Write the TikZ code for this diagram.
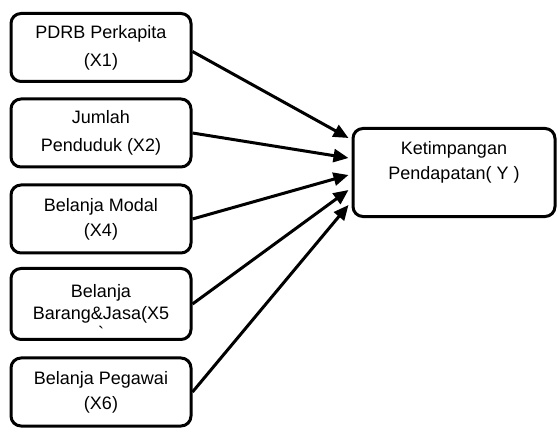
\documentclass[tikz,border=0pt]{standalone}
\usepackage{fontspec}
\setmainfont{Liberation Sans}
\usetikzlibrary{arrows.meta}
\begin{document}
\begin{tikzpicture}[x=1pt,y=1pt,
  var/.style={draw,line width=3pt,rounded corners=10pt,align=center,
    minimum width=180pt,minimum height=68pt,inner sep=2pt,
    font=\fontsize{18}{25}\selectfont},
  link/.style={line width=3pt,-{Triangle[length=15pt,width=13pt]}}]
\useasboundingbox (0,0) rectangle (558,432);
\node[var,font=\fontsize{18}{28}\selectfont] (x1) at (101,384.5) {PDRB Perkapita\\(X1)};
\node[var,font=\fontsize{18}{28}\selectfont] (x2) at (101,299) {Jumlah\\Penduduk (X2)};
\node[var] (x4) at (101,213) {Belanja Modal\\(X4)};
\node[var,minimum height=71pt,font=\fontsize{18}{22}\selectfont] (x5) at (101,128) {Belanja\\Barang\&Jasa(X5};
\node[font=\fontsize{18}{22}\selectfont,inner sep=0pt] (x5g) at ([yshift=-29pt]x5.center) {\textasciigrave};
\node[var] (x6) at (101,40) {Belanja Pegawai\\(X6)};
\node[var,minimum width=202pt,minimum height=0pt,inner ysep=13pt,text depth=24pt] (y) at (454,259.5) {Ketimpangan\\Pendapatan( Y )};
\draw[link] ([yshift=-4pt]x1.east) -- ([xshift=-3pt,yshift=34.5pt]y.west);
\draw[link] (x2.east) -- ([xshift=-3pt,yshift=14.5pt]y.west);
\draw[link] (x4.east) -- ([xshift=-3pt,yshift=-2.5pt]y.west);
\draw[link] (x5.east) -- ([xshift=-3pt,yshift=-17.5pt]y.west);
\draw[link] (x6.east) -- ([xshift=-3pt,yshift=-32.5pt]y.west);
\end{tikzpicture}
\end{document}
